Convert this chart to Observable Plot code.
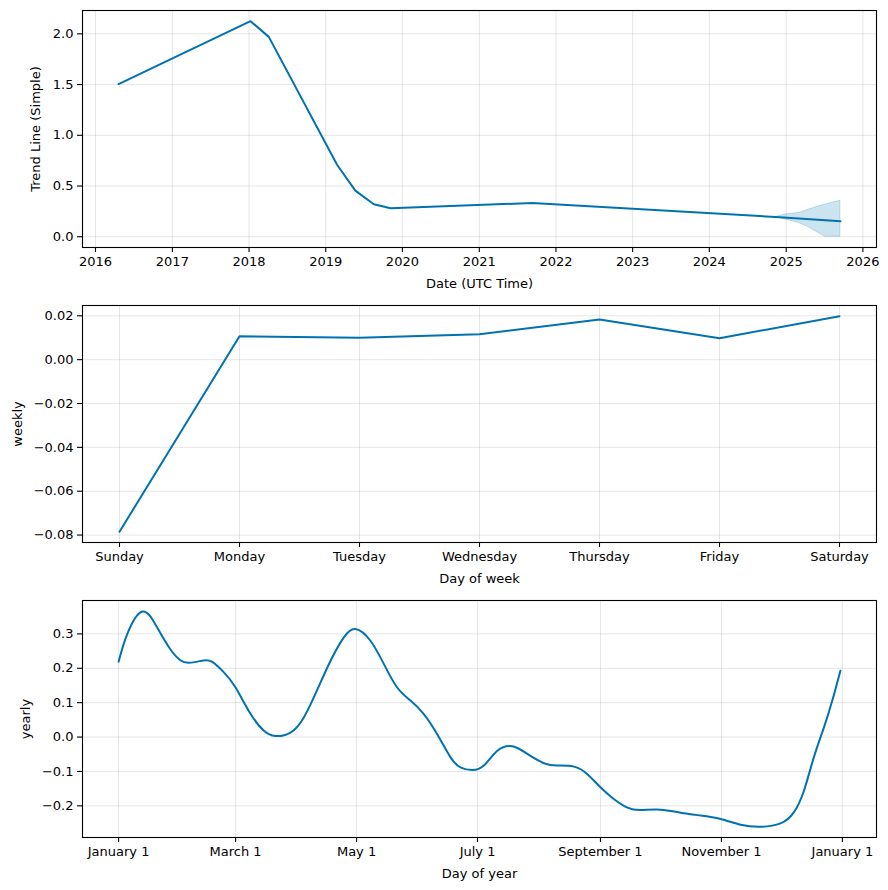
<!DOCTYPE html>
<html>
<head>
<meta charset="utf-8">
<script src="https://cdn.jsdelivr.net/npm/d3@7"></script>
<script src="https://cdn.jsdelivr.net/npm/@observablehq/plot@0.6"></script>
<style>
  html, body { margin: 0; padding: 0; background: #fff; }
  #chart { width: 888px; height: 890px; position: relative; }
  #chart svg { display: block; }
</style>
</head>
<body>
<div id="chart"></div>
<script>
// ---------- Data ----------
// Trend (piecewise linear)
const trendDates  = ["2016-04-20","2018-01-08","2018-04-05","2019-02-24","2019-05-22","2019-08-18","2019-11-06","2021-09-10","2024-12-01","2025-09-16"];
const trendValues = [1.505, 2.125, 1.97, 0.71, 0.455, 0.32, 0.28, 0.333, 0.192, 0.152];
// Trend uncertainty band
const bandDates = ["2024-11-10","2025-01-01","2025-03-05","2025-04-15","2025-07-05","2025-09-16"];
const bandLower = [0.195, 0.168, 0.134, 0.095, 0.0, 0.0];
const bandUpper = [0.195, 0.222, 0.235, 0.266, 0.318, 0.355];
const yearTicks = [2016,2017,2018,2019,2020,2021,2022,2023,2024,2025,2026];

// Weekly seasonality
const days = ["Sunday","Monday","Tuesday","Wednesday","Thursday","Friday","Saturday"];
const weeklyValues = [-0.0785, 0.0107, 0.0100, 0.0116, 0.0183, 0.0098, 0.0198];

// Yearly seasonality (day offset from Jan 1, value)
const yearlyDays = [0, 4.4, 12, 19.4, 26, 31, 35.5, 42, 47, 53.1, 59, 66.6, 73.3, 79, 86.7, 93.4, 100, 106.9, 113.6, 119.5,
  127, 133.8, 140.5, 147.2, 153.9, 160.6, 167.4, 172.4, 178.2, 184.2, 191, 198.6, 206.1, 214.5, 221.3, 229.6, 236.4, 243,
  249.7, 256.6, 263.2, 273.3, 283.4, 293.5, 303.6, 313.7, 323.7, 333.8, 340.5, 345.6, 350.6, 355.7, 359.9, 364];
const yearlyValues = [0.219, 0.30, 0.365, 0.319, 0.256, 0.224, 0.216, 0.222, 0.219, 0.188, 0.144, 0.067, 0.018, 0.003, 0.013, 0.057, 0.135, 0.222, 0.29, 0.314,
  0.28, 0.212, 0.144, 0.106, 0.067, 0.009, -0.059, -0.088, -0.096, -0.083, -0.04, -0.027, -0.049, -0.076, -0.083, -0.086, -0.108, -0.146,
  -0.18, -0.205, -0.212, -0.211, -0.22, -0.228, -0.238, -0.255, -0.261, -0.251, -0.219, -0.156, -0.059, 0.028, 0.106, 0.193];
const monthTickLabels = ["2017-01-01","2017-03-01","2017-05-01","2017-07-01","2017-09-01","2017-11-01","2018-01-01"];

// ---------- Build ----------
const parse = d3.utcParse("%Y-%m-%d");
const trend = trendDates.map((d, i) => ({date: parse(d), value: trendValues[i]}));
const band = bandDates.map((d, i) => ({date: parse(d), lo: bandLower[i], hi: bandUpper[i]}));
const weekly = days.map((d, i) => ({day: d, value: weeklyValues[i]}));
const yearStart = parse("2017-01-01");
const yearly = yearlyDays.map((d, i) => ({date: new Date(+yearStart + d * 864e5), value: yearlyValues[i]}));

const BLUE = "#0072B2";
const FONT = "DejaVu Sans, sans-serif";
const gridStyle = {stroke: "gray", strokeOpacity: 0.2, strokeWidth: 1};
const axisStyle = {tickSize: 5, tickPadding: 4, fontSize: 13, stroke: "black", strokeWidth: 1.1};

function pad(domain, frac) {
  const a = +domain[0], b = +domain[1], m = (b - a) * frac;
  return [a - m, b + m];
}

function base(h, mb) {
  return {
    width: 888, height: h,
    marginTop: 10, marginBottom: mb, marginLeft: 82, marginRight: 12,
    style: {fontFamily: FONT, fontSize: "13px", color: "black", background: "white", overflow: "visible"}
  };
}

const root = document.getElementById("chart");

// Panel 1: trend
{
  const ext = d3.extent(trend, d => d.date);
  const xd = pad(ext, 0.05).map(v => new Date(v));
  const xt = yearTicks.map(y => new Date(Date.UTC(y, 0, 1)));
  const yt = [0, 0.5, 1, 1.5, 2];
  root.append(Plot.plot({
    ...base(295, 48),
    x: {type: "utc", domain: xd},
    y: {domain: [-0.106, 2.23]},
    marks: [
      Plot.gridX(xt, gridStyle),
      Plot.gridY(yt, gridStyle),
      Plot.areaY(band, {x: "date", y1: "lo", y2: "hi", fill: BLUE, fillOpacity: 0.2, stroke: BLUE, strokeOpacity: 0.2, strokeWidth: 1}),
      Plot.lineY(trend, {x: "date", y: "value", stroke: BLUE, strokeWidth: 2}),
      Plot.frame({stroke: "black", strokeWidth: 1.1}),
      Plot.axisX(xt, {...axisStyle, tickFormat: d3.utcFormat("%Y"), label: "Date (UTC Time)", labelAnchor: "center", labelOffset: 40, labelArrow: "none"}),
      Plot.axisY(yt, {...axisStyle, tickFormat: d3.format(".1f"), label: "Trend Line (Simple)", labelAnchor: "center", labelOffset: 52, labelArrow: "none"})
    ]
  }));
}

// Panel 2: weekly
{
  const yt = [-0.08, -0.06, -0.04, -0.02, 0, 0.02];
  root.append(Plot.plot({
    ...base(295, 48),
    x: {type: "point", domain: days, padding: 0.3},
    y: {domain: [-0.0834, 0.0247]},
    marks: [
      Plot.gridX(days, gridStyle),
      Plot.gridY(yt, gridStyle),
      Plot.lineY(weekly, {x: "day", y: "value", stroke: BLUE, strokeWidth: 2}),
      Plot.frame({stroke: "black", strokeWidth: 1.1}),
      Plot.axisX(days, {...axisStyle, label: "Day of week", labelAnchor: "center", labelOffset: 40, labelArrow: "none"}),
      Plot.axisY(yt, {...axisStyle, tickFormat: d3.format(".2f"), label: "weekly", labelAnchor: "center", labelOffset: 70, labelArrow: "none"})
    ]
  }));
}

// Panel 3: yearly
{
  const ext = d3.extent(yearly, d => d.date);
  const xd = pad(ext, 0.05).map(v => new Date(v));
  const xt = monthTickLabels.map(parse);
  const yt = [-0.2, -0.1, 0, 0.1, 0.2, 0.3];
  root.append(Plot.plot({
    ...base(300, 53),
    x: {type: "utc", domain: xd},
    y: {domain: [-0.292, 0.397]},
    marks: [
      Plot.gridX(xt, gridStyle),
      Plot.gridY(yt, gridStyle),
      Plot.lineY(yearly, {x: "date", y: "value", stroke: BLUE, strokeWidth: 2, curve: "natural"}),
      Plot.frame({stroke: "black", strokeWidth: 1.1}),
      Plot.axisX(xt, {...axisStyle, tickFormat: d3.utcFormat("%B %-d"), label: "Day of year", labelAnchor: "center", labelOffset: 40, labelArrow: "none"}),
      Plot.axisY(yt, {...axisStyle, tickFormat: d3.format(".1f"), label: "yearly", labelAnchor: "center", labelOffset: 62, labelArrow: "none"})
    ]
  }));
}
</script>
</body>
</html>
